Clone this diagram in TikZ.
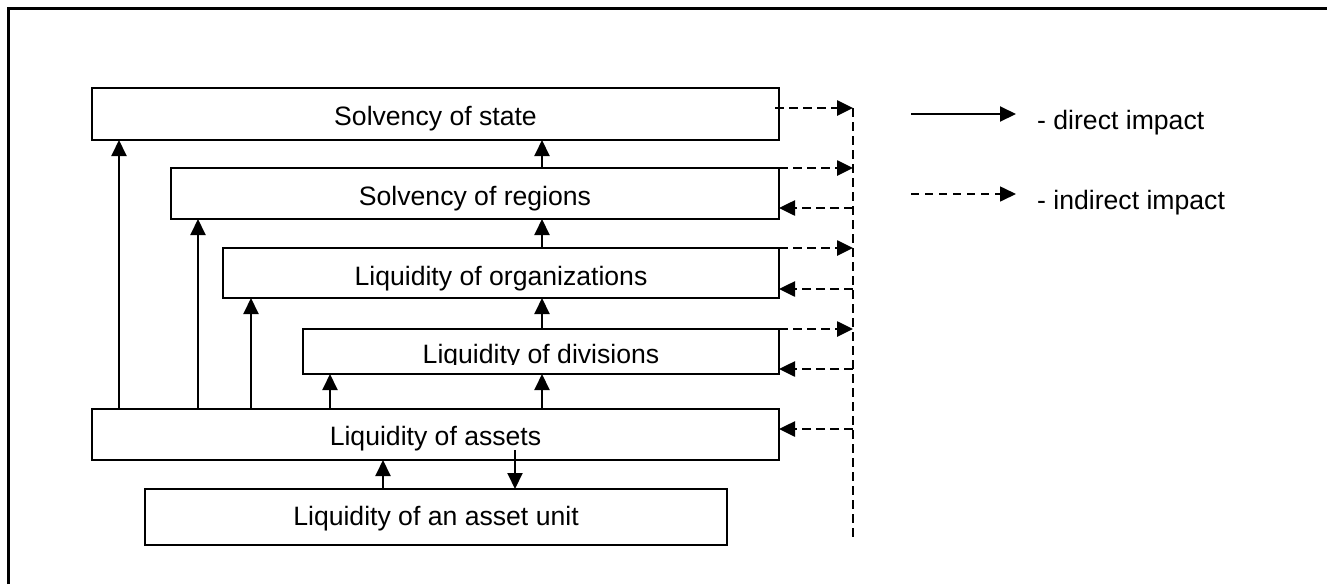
\documentclass[tikz,border=0pt]{standalone}
\usepackage{fontspec}
\setmainfont{Liberation Sans}
\usetikzlibrary{arrows.meta,calc}
\tikzset{
  box/.style={draw, line width=2pt, rectangle, anchor=north west, inner sep=0pt, outer sep=0pt},
  lbl/.style={anchor=base, inner sep=0pt, font=\fontsize{26.6}{30}\selectfont},
  tip/.style={-{Triangle[length=16pt,width=15pt]}},
  arr/.style={line width=2pt, tip},
  darr/.style={line width=2.6pt, dash pattern=on 9pt off 5pt, tip},
  dline/.style={line width=2.6pt, dash pattern=on 9pt off 5pt},
  legdash/.style={line width=1.6pt, dash pattern=on 8pt off 6pt, tip},
}
\begin{document}
\begin{tikzpicture}[x=1pt,y=-1pt]
\useasboundingbox (0,0) rectangle (1327,584);
% frame
\draw[line width=3pt] (8,584) -- (8,8) -- (1327,8);

% boxes
\node[box, minimum width=687pt, minimum height=52pt] (state) at (92,88) {};
\node[box, minimum width=608pt, minimum height=51pt] (regions) at (171,168) {};
\node[box, minimum width=556pt, minimum height=50pt] (org) at (223,248) {};
\node[box, minimum width=476pt, minimum height=45pt] (div) at (303,329) {};
\node[box, minimum width=687pt, minimum height=51pt] (assets) at (92,409) {};
\node[box, minimum width=582pt, minimum height=56pt] (unit) at (145,489) {};

% labels
\node[lbl] (statet) at (435.5,125) {Solvency of state};
\node[lbl] (regionst) at (475,205) {Solvency of regions};
\node[lbl] (orgt) at (501,285) {Liquidity of organizations};
\begin{scope}
\clip (303,329) rectangle (779,364);
\node[lbl] (divt) at (541,363) {Liquidity of divisions};
\end{scope}
\node[lbl] (assetst) at (435.5,445) {Liquidity of assets};
\node[lbl] (unitt) at (436,525) {Liquidity of an asset unit};

% direct impacts from assets (left side)
\draw[arr] ($(assets.north west)+(27,0)$) -- ($(state.south west)+(27,0)$);
\draw[arr] ($(assets.north west)+(106,0)$) -- ($(regions.south west)+(27,0)$);
\draw[arr] ($(assets.north west)+(159,0)$) -- ($(org.south west)+(28,0)$);
\draw[arr] ($(assets.north west)+(238,0)$) -- ($(div.south west)+(27,0)$);

% middle column
\coordinate (mc) at (542,0);
\draw[arr] (assets.north -| mc) -- (div.south -| mc);
\draw[arr] (div.north -| mc) -- (org.south -| mc);
\draw[arr] (org.north -| mc) -- (regions.south -| mc);
\draw[arr] (regions.north -| mc) -- (state.south -| mc);

% assets <-> unit
\coordinate (up) at (383,0);
\coordinate (dn) at (515,450);
\draw[arr] (unit.north -| up) -- (assets.south -| up);
\draw[arr] (dn) -- (unit.north -| dn);

% indirect bus
\coordinate (bus) at (853,108);
\coordinate (busend) at (853,540);
\coordinate (s0) at (775,108);
\draw[dline] (bus) -- (busend);
\draw[darr] (s0) -- (bus);
\draw[darr] (regions.north east) -- (regions.north east -| bus);
\draw[darr] (org.north east) -- (org.north east -| bus);
\draw[darr] (div.north east) -- (div.north east -| bus);

\coordinate (b1) at (853,208);
\coordinate (b2) at (853,289);
\coordinate (b3) at (853,369);
\coordinate (b4) at (853,429);
\draw[darr] (b1) -- (b1 -| regions.east);
\draw[darr] (b2) -- (b2 -| org.east);
\draw[darr] (b3) -- (b3 -| div.east);
\draw[darr] (b4) -- (b4 -| assets.east);

% legend
\coordinate (l1a) at (911,114);
\coordinate (l1b) at (1016,114);
\coordinate (l2a) at (911,194);
\coordinate (l2b) at (1016,194);
\draw[arr] (l1a) -- (l1b);
\draw[legdash] (l2a) -- (l2b);
\node[lbl, anchor=base west] (leg1) at (1037,129) {- direct impact};
\node[lbl, anchor=base west] (leg2) at (1037,209) {- indirect impact};
\end{tikzpicture}
\end{document}
